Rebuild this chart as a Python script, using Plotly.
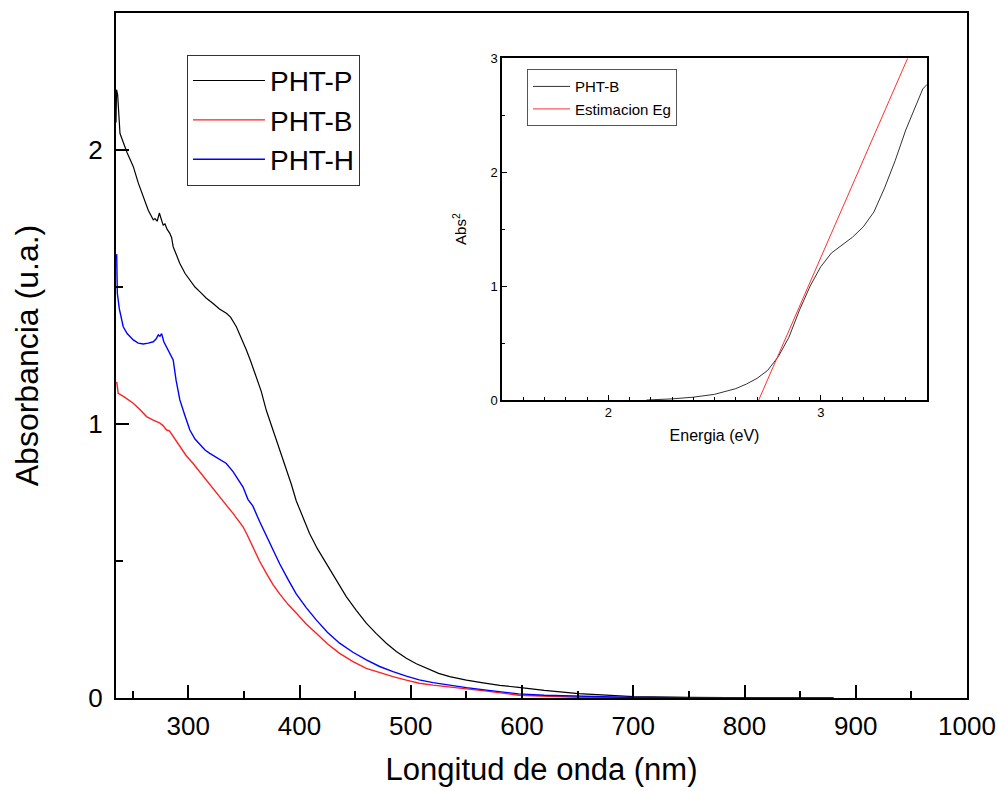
import plotly.graph_objects as go

# ---------------- main chart data ----------------
p_wl = [235, 235.5, 236.5, 238, 238.6, 245, 250.5, 255, 259.5, 264, 268.5, 270, 272, 274, 275.5, 277.4, 279, 281,
        283.4, 285, 286.4, 289, 292.4, 297, 301.4, 306, 310.3, 316, 322.3, 328, 334.2, 338, 343.2, 347, 352.2,
        356, 361.2, 365.5, 370.1, 376, 382.1, 388, 392.6, 397, 403, 409, 416, 424, 433, 442, 451, 460, 469,
        478, 487, 496, 505, 514, 525, 535, 550, 565, 580, 597, 620, 651, 680, 700, 750, 800, 880]
p_abs = [2.10, 2.22, 2.20, 2.08, 2.06, 1.99, 1.94, 1.88, 1.83, 1.78, 1.745, 1.75, 1.74, 1.77, 1.75, 1.726, 1.73, 1.71,
         1.696, 1.68, 1.647, 1.62, 1.586, 1.55, 1.526, 1.50, 1.483, 1.46, 1.44, 1.42, 1.404, 1.39, 1.355, 1.32, 1.27,
         1.23, 1.17, 1.12, 1.05, 0.98, 0.90, 0.83, 0.78, 0.72, 0.66, 0.60, 0.545, 0.49, 0.43, 0.37, 0.32, 0.273, 0.235,
         0.20, 0.17, 0.145, 0.125, 0.108, 0.09, 0.078, 0.065, 0.055, 0.046, 0.039, 0.028, 0.016, 0.008, 0.005, 0.002,
         0.001, 0.0]

b_wl = [235.6, 236.5, 237, 242, 246, 250.5, 256, 262.5, 268, 274.5, 277, 279, 280.5, 283, 286.4, 292.4, 298, 304.3,
        310.3, 316.3, 322.3, 328.3, 334, 340.2, 345, 349.2, 353, 358.1, 364, 370.2, 376, 382.1, 390, 397, 406, 415,
        425, 436, 448, 460, 472, 484, 496, 507.6, 520, 534.5, 550, 570, 597, 620, 650, 700, 750, 880]
b_abs = [1.154, 1.13, 1.112, 1.10, 1.09, 1.076, 1.055, 1.027, 1.015, 1.003, 0.995, 0.985, 0.978, 0.975, 0.954, 0.917,
         0.885, 0.856, 0.825, 0.796, 0.765, 0.73, 0.705, 0.674, 0.65, 0.625, 0.595, 0.552, 0.50, 0.455, 0.415, 0.38,
         0.34, 0.31, 0.27, 0.236, 0.198, 0.163, 0.133, 0.108, 0.092, 0.078, 0.065, 0.054, 0.047, 0.041, 0.033, 0.024,
         0.01, 0.006, 0.003, 0.001, 0.0, 0.0]

h_wl = [235.6, 236, 236.2, 238, 241.5, 245, 250.5, 255, 259.5, 264, 268.5, 271, 273, 274.5, 276, 278, 280.5, 283,
        286.4, 289, 292.4, 297, 301.4, 306, 310.3, 315, 319.3, 322.3, 328.3, 334.2, 340.2, 346.2, 349.2, 353.6,
        358.1, 364, 370.2, 376, 382.1, 390, 397, 406, 415, 425, 436, 448, 460, 472, 484, 496, 507.6, 520, 534.5,
        550, 570, 597, 620, 650, 700, 750, 880]
h_abs = [1.62, 1.50, 1.477, 1.42, 1.355, 1.33, 1.307, 1.295, 1.292, 1.295, 1.30, 1.31, 1.325, 1.32, 1.33, 1.30, 1.28,
         1.26, 1.234, 1.16, 1.088, 1.03, 0.978, 0.945, 0.925, 0.905, 0.893, 0.885, 0.872, 0.856, 0.826, 0.79, 0.77,
         0.725, 0.70, 0.645, 0.59, 0.54, 0.49, 0.43, 0.38, 0.33, 0.285, 0.24, 0.20, 0.167, 0.139, 0.115, 0.096, 0.08,
         0.066, 0.056, 0.047, 0.038, 0.028, 0.015, 0.01, 0.006, 0.002, 0.001, 0.0]

# ---------------- inset data ----------------
inset_e = [2.18, 2.25, 2.3, 2.4, 2.5, 2.6, 2.65, 2.7, 2.75, 2.8, 2.85, 2.9, 2.95, 3.0, 3.05, 3.1, 3.15, 3.2,
           3.25, 3.3, 3.35, 3.4, 3.45, 3.48, 3.5]
inset_abs2 = [0.0, 0.005, 0.01, 0.025, 0.05, 0.10, 0.14, 0.19, 0.26, 0.38, 0.55, 0.79, 1.0, 1.17, 1.29, 1.36, 1.43,
              1.52, 1.65, 1.86, 2.10, 2.37, 2.60, 2.73, 2.77]
eg_x = [2.708, 3.409]
eg_y = [0.0, 3.0]

main_xticks = [300, 400, 500, 600, 700, 800, 900, 1000]
main_yticks = [0, 1, 2]
inset_xticks = [2, 3]
inset_yticks = [0, 1, 2, 3]

FONT = "Liberation Sans, Arial, sans-serif"

fig = go.Figure()
fig.add_trace(go.Scatter(x=p_wl, y=p_abs, mode="lines", name="PHT-P",
                         line=dict(color="#000000", width=1.2), legend="legend"))
fig.add_trace(go.Scatter(x=b_wl, y=b_abs, mode="lines", name="PHT-B",
                         line=dict(color="#ff2020", width=1.4), legend="legend"))
fig.add_trace(go.Scatter(x=h_wl, y=h_abs, mode="lines", name="PHT-H",
                         line=dict(color="#0000ff", width=1.4), legend="legend"))

fig.add_trace(go.Scatter(x=inset_e, y=inset_abs2, mode="lines", name="PHT-B",
                         line=dict(color="#333333", width=1), xaxis="x2", yaxis="y2", legend="legend2"))
fig.add_trace(go.Scatter(x=eg_x, y=eg_y, mode="lines", name="Estimacion Eg",
                         line=dict(color="#ff3030", width=1), xaxis="x2", yaxis="y2", legend="legend2"))

ax_common = dict(showgrid=False, zeroline=False, showline=True, mirror=True, linecolor="black",
                 ticks="inside", tickcolor="black", automargin=False)

fig.update_layout(
    width=998, height=791,
    margin=dict(l=116, r=31, t=13, b=93, autoexpand=False),
    plot_bgcolor="white", paper_bgcolor="white",
    font=dict(family=FONT, color="black"),
    xaxis=dict(**ax_common, range=[235, 1000], tickvals=main_xticks, linewidth=2, ticklen=13, tickwidth=2,
               tickfont=dict(size=26), ticklabelstandoff=4,
               minor=dict(tickvals=[250, 350, 450, 550, 650, 750, 850, 950], ticks="inside", ticklen=7,
                          tickwidth=2, tickcolor="black"),
               title=dict(text="Longitud de onda (nm)", font=dict(size=31), standoff=18),
               domain=[0, 1]),
    yaxis=dict(**ax_common, range=[0, 2.5], tickvals=main_yticks, linewidth=2, ticklen=13, tickwidth=2,
               tickfont=dict(size=26), ticklabelstandoff=6,
               minor=dict(tickvals=[0.5, 1.5], ticks="inside", ticklen=7, tickwidth=2, tickcolor="black"),
               title=dict(text="Absorbancia (u.a.)", font=dict(size=32), standoff=40),
               domain=[0, 1]),
    xaxis2=dict(**ax_common, range=[1.5, 3.5], tickvals=inset_xticks, linewidth=1.5, ticklen=5, tickwidth=1,
                tickfont=dict(size=13), anchor="y2", domain=[0.4536, 0.953],
                minor=dict(dtick=0.1, tick0=0, ticks="inside", ticklen=3, tickwidth=1, tickcolor="black"),
                title=dict(text="Energia (eV)", font=dict(size=16), standoff=10)),
    yaxis2=dict(**ax_common, range=[0, 3], tickvals=inset_yticks, linewidth=1.5, ticklen=5, tickwidth=1,
                tickfont=dict(size=13), anchor="x2", domain=[0.435, 0.934],
                minor=dict(tickvals=[0.5, 1.5, 2.5], ticks="inside", ticklen=3, tickwidth=1, tickcolor="black"),
                title=dict(text="Abs<sup>2</sup>", font=dict(size=15), standoff=20)),
    legend=dict(x=0.0834, y=0.939, xanchor="left", yanchor="top", bgcolor="white",
                bordercolor="#333333", borderwidth=1, font=dict(size=28), itemwidth=72,
                tracegroupgap=0),
    legend2=dict(x=0.483, y=0.918, xanchor="left", yanchor="top", bgcolor="white",
                 bordercolor="#555555", borderwidth=1, font=dict(size=15), itemwidth=37),
    showlegend=True,
)

fig.write_html("out.html")
